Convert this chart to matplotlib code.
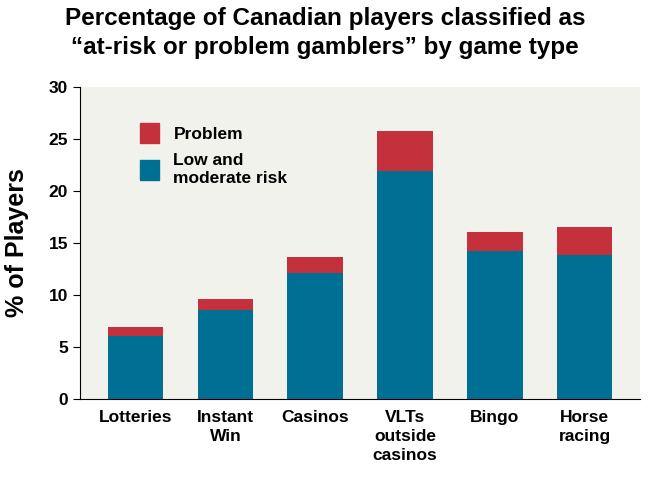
import matplotlib
matplotlib.use("Agg")
import matplotlib.pyplot as plt
from matplotlib.patches import Patch

plt.rcParams["font.family"] = "Liberation Sans"
plt.rcParams["font.weight"] = "bold"

categories = ["Lotteries", "Instant\nWin", "Casinos", "VLTs\noutside\ncasinos", "Bingo", "Horse\nracing"]
low_moderate = [6.0, 8.5, 12.1, 21.9, 14.2, 13.85]
total = [6.9, 9.6, 13.65, 25.8, 16.0, 16.5]
problem = [t - l for t, l in zip(total, low_moderate)]

blue = "#006f94"
red = "#c4303c"

fig = plt.figure(figsize=(6.5, 4.8), dpi=100)
ax = fig.add_axes([0.123, 0.169, 0.862, 0.65])
ax.set_facecolor("#f2f2ed")
x = range(len(categories))
ax.bar(x, low_moderate, width=0.62, color=blue)
ax.bar(x, problem, bottom=low_moderate, width=0.62, color=red)
ax.set_xlim(-0.62, 5.62)
ax.set_ylim(0, 30)
ax.set_yticks([0, 5, 10, 15, 20, 25, 30])
ax.set_xticks(list(x))
ax.set_xticklabels(categories, fontsize=12.5, fontweight="bold", va="top", linespacing=1.35)
ax.tick_params(axis="y", labelsize=12.5, length=5)
ax.tick_params(axis="x", length=0, pad=8)
for lbl in ax.get_yticklabels():
    lbl.set_fontweight("bold")
for s in ["top", "right"]:
    ax.spines[s].set_visible(False)
ax.set_ylabel("% of Players", fontsize=18, fontweight="bold", labelpad=14)
ax.legend(handles=[Patch(color=red), Patch(color=blue)],
          labels=["Problem", "Low and\nmoderate risk"],
          loc="upper left", bbox_to_anchor=(0.08, 0.935), frameon=False,
          handlelength=1.1, handleheight=1.4, labelspacing=0.6,
          prop={"weight": "bold", "size": 12.5})
fig.suptitle("Percentage of Canadian players classified as\n\u201cat-risk or problem gamblers\u201d by game type",
             fontsize=17.5, fontweight="bold", y=0.985, linespacing=1.3)
fig.savefig("out.png")
